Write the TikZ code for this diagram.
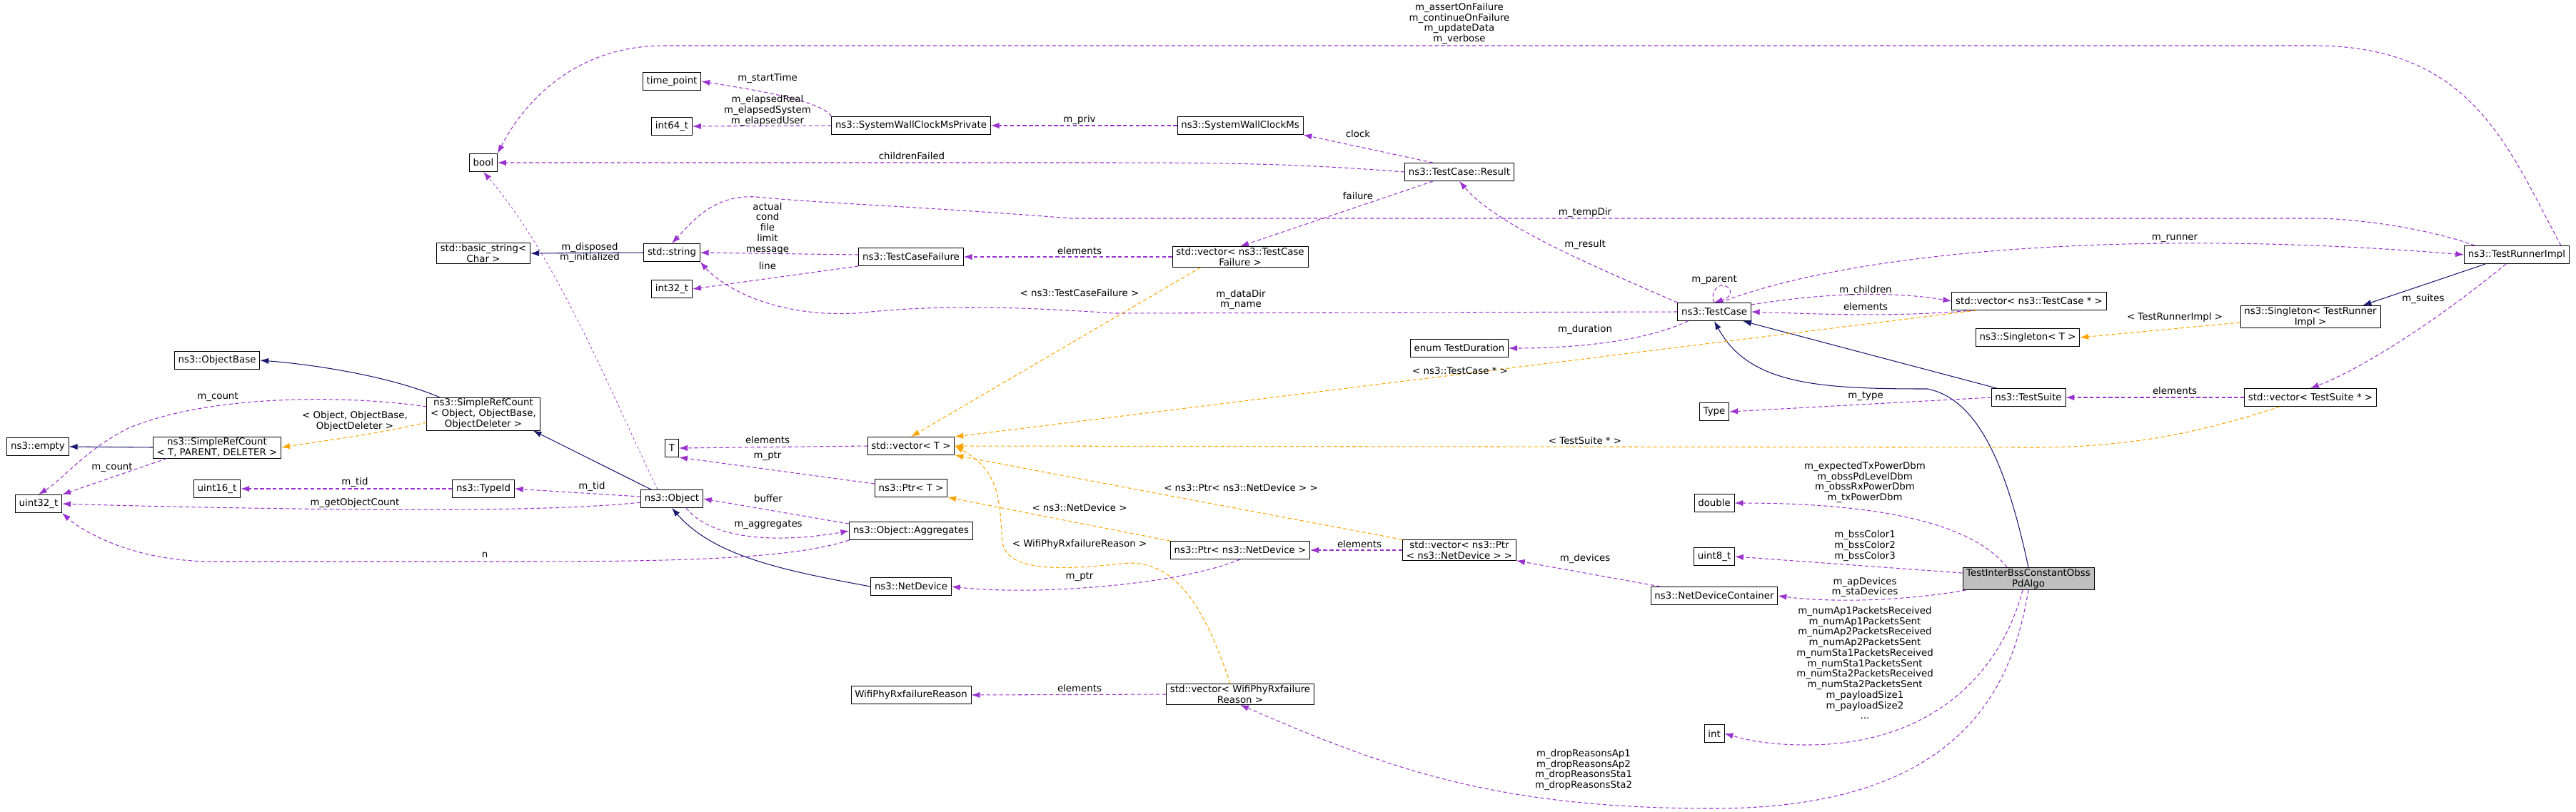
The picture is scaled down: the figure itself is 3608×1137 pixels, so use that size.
\documentclass[tikz,border=0pt]{standalone}
\usepackage{fontspec}
\setmainfont{DejaVu Sans}
\usetikzlibrary{arrows.meta}

\begin{document}
\begin{tikzpicture}[x=0.02cm, y=-0.02cm,
    font=\fontsize{7.6}{8.4}\selectfont,
    cls/.style={draw, fill=white, inner xsep=3pt, inner ysep=1pt, minimum height=0.5cm, align=center, line width=0.5pt},
    lbl/.style={inner sep=0pt, align=center},
    use/.style={->, >={Latex[length=2.4mm,width=1.7mm]}, draw={rgb,255:red,154;green,50;blue,205}, dashed, dash pattern=on 3pt off 2pt, line width=0.6pt},
    tmpl/.style={use, draw={rgb,255:red,255;green,165;blue,0}},
    inh/.style={->, >={Latex[length=2.4mm,width=1.7mm]}, draw={rgb,255:red,25;green,25;blue,112}, line width=0.6pt}]
  \useasboundingbox (0,0) rectangle (3608,1137);

  % classes
  \node[cls] (tp) at (941,114) {time\_point};
  \node[cls] (i64) at (941,177) {int64\_t};
  \node[cls] (bool) at (677,228) {bool};
  \node[cls] (bstr) at (677,355) {std::basic\_string\textless\\Char \textgreater};
  \node[cls] (str) at (941,354) {std::string};
  \node[cls] (i32) at (941,405) {int32\_t};
  \node[cls] (obase) at (304,505) {ns3::ObjectBase};
  \node[cls] (srco) at (677,580) {ns3::SimpleRefCount\\\textless{} Object, ObjectBase,\\ObjectDeleter \textgreater};
  \node[cls] (empty) at (53,626) {ns3::empty};
  \node[cls] (srct) at (304,627) {ns3::SimpleRefCount\\\textless{} T, PARENT, DELETER \textgreater};
  \node[cls] (u16) at (304,685) {uint16\_t};
  \node[cls] (tid) at (677,685) {ns3::TypeId};
  \node[cls] (u32) at (54,706) {uint32\_t};
  \node[cls] (obj) at (941,699) {ns3::Object};
  \node[cls] (T) at (941,628) {T};
  \node[cls] (swcp) at (1276,176) {ns3::SystemWallClockMsPrivate};
  \node[cls] (swc) at (1737,176) {ns3::SystemWallClockMs};
  \node[cls] (res) at (2044,241) {ns3::TestCase::Result};
  \node[cls] (vtcf) at (1737,360) {std::vector\textless{} ns3::TestCase\\Failure \textgreater};
  \node[cls] (tcf) at (1276,360) {ns3::TestCaseFailure};
  \node[cls] (tdur) at (2044,488) {enum TestDuration};
  \node[cls] (tc) at (2401,437) {ns3::TestCase};
  \node[cls] (tri) at (3525,357) {ns3::TestRunnerImpl};
  \node[cls] (vtc) at (2842,422) {std::vector\textless{} ns3::TestCase * \textgreater};
  \node[cls] (sgtri) at (3236,444) {ns3::Singleton\textless{} TestRunner\\Impl \textgreater};
  \node[cls] (sgt) at (2840,473) {ns3::Singleton\textless{} T \textgreater};
  \node[cls] (ts) at (2841,557) {ns3::TestSuite};
  \node[cls] (vts) at (3236,557) {std::vector\textless{} TestSuite * \textgreater};
  \node[cls] (type) at (2401,577) {Type};
  \node[cls] (dbl) at (2401,705) {double};
  \node[cls] (u8) at (2401,780) {uint8\_t};
  \node[cls] (ndc) at (2401,835) {ns3::NetDeviceContainer};
  \node[cls] (int) at (2401,1028) {int};
  \node[cls, fill={rgb,255:red,191;green,191;blue,191}] (tib) at (2841,811) {TestInterBssConstantObss\\PdAlgo};
  \node[cls] (vt) at (1276,625) {std::vector\textless{} T \textgreater};
  \node[cls] (ptrt) at (1276,684) {ns3::Ptr\textless{} T \textgreater};
  \node[cls] (aggr) at (1276,744) {ns3::Object::Aggregates};
  \node[cls] (nd) at (1276,822) {ns3::NetDevice};
  \node[cls] (ptrnd) at (1737,771) {ns3::Ptr\textless{} ns3::NetDevice \textgreater};
  \node[cls] (vptrnd) at (2044,771) {std::vector\textless{} ns3::Ptr\\\textless{} ns3::NetDevice \textgreater{} \textgreater};
  \node[cls] (wfr) at (1276,974) {WifiPhyRxfailureReason};
  \node[cls] (vwfr) at (1737,973) {std::vector\textless{} WifiPhyRxfailure\\Reason \textgreater};

  % inheritance
  \draw[inh] (str.west) -- (bstr.east);
  \path (tc.south) ++(40,0) coordinate (tcs) (ts.north west) ++(8,0) coordinate (tsn);
  \draw[inh] (tsn) -- (tcs);
  \path (tri.south west) ++(30,0) coordinate (tris) (sgtri.north east) ++(-25,0) coordinate (sgn);
  \draw[inh] (tris) -- (sgn);
  \draw[inh] (tib.north) .. controls (2810,650) and (2770,560) .. (2700,545) .. controls (2550,545) and (2450,540) .. (tc.south);
  \draw[inh] (nd.west) .. controls (1100,800) and (1000,780) .. (obj.south);
  \path (obj.north west) ++(15,0) coordinate (objn) (srco.south east) ++(-10,0) coordinate (srcs);
  \draw[inh] (objn) -- (srcs);
  \path (srco.north west) ++(18,0) coordinate (srcn);
  \draw[inh] (srcn) .. controls (540,525) and (430,510) .. (obase.east);
  \draw[inh] (srct.west) -- (empty.east);

  % members
  \path (tri.north east) ++(-12,0) coordinate (trin1);
  \draw[use] (trin1) .. controls (3510,200) and (3460,64) .. (3240,64) -- (930,64) .. controls (800,64) and (730,150) .. (bool.north east);
  \node[lbl] (l1) at (2044,33) {m\_assertOnFailure\\m\_continueOnFailure\\m\_updateData\\m\_verbose};
  \draw[use] (swcp.north west) .. controls (1150,140) and (1050,125) .. (tp.east);
  \node[lbl] (l2) at (1075,110) {m\_startTime};
  \draw[use] (swcp.west) -- (i64.east);
  \node[lbl] (l3) at (1075,155) {m\_elapsedReal\\m\_elapsedSystem\\m\_elapsedUser};
  \draw[use] (swc.west) -- (swcp.east);
  \node[lbl] (l4) at (1512,168) {m\_priv};
  \path (res.north west) ++(40,0) coordinate (resn);
  \draw[use] (resn) -- (swc.south east);
  \node[lbl] (l5) at (1902,188) {clock};
  \draw[use] (res.west) .. controls (1800,228) and (1700,228) .. (1500,228) -- (bool.east);
  \node[lbl] (l6) at (1277,219) {childrenFailed};
  \path (res.south west) ++(40,0) coordinate (ress);
  \draw[use] (ress) -- (vtcf.north);
  \node[lbl] (l7) at (1902,275) {failure};
  \draw[use] (vtcf.west) -- (tcf.east);
  \node[lbl] (l8) at (1512,352) {elements};
  \path (tcf.west) ++(0,-3) coordinate (tcfw);
  \draw[use] (tcfw) -- (str.east);
  \node[lbl] (l9) at (1075,320) {actual\\cond\\file\\limit\\message};
  \draw[use] (tcf.south west) -- (i32.east);
  \node[lbl] (l10) at (1075,373) {line};
  \path (tri.north west) ++(15,0) coordinate (trin2);
  \draw[use] (trin2) .. controls (3400,320) and (3300,306) .. (3240,306) -- (1500,306) .. controls (1300,290) and (1150,285) .. (1060,276) .. controls (1000,272) and (970,310) .. (str.north);
  \node[lbl] (l13) at (2220,298) {m\_tempDir};
  \draw[use] (tc.west) -- (1560,439) .. controls (1400,428) and (1300,428) .. (1200,439) .. controls (1080,445) and (1010,400) .. (str.south east);
  \node[lbl] (l14) at (1738,420) {m\_dataDir\\m\_name};
  \draw[use] (tc.north west) .. controls (2250,380) and (2100,320) .. (res.south);
  \node[lbl] (l15) at (2220,343) {m\_result};
  \draw[use] (tc.north) .. controls (2395,410) and (2405,400) .. (2412,400) .. controls (2425,400) and (2430,415) .. (tc.north);
  \node[lbl] (l16) at (2401,392) {m\_parent};
  \path (tc.south west) ++(15,0) coordinate (tcsw);
  \draw[use] (tcsw) .. controls (2300,480) and (2200,488) .. (tdur.east);
  \node[lbl] (l17) at (2220,462) {m\_duration};
  \path (tc.north) ++(8,0) coordinate (tcn);
  \draw[use] (tcn) .. controls (2600,350) and (3000,320) .. (tri.west);
  \node[lbl] (l18) at (3046,334) {m\_runner};
  \path (tc.north east) ++(0,3) coordinate (tcne);
  \draw[use] (tcne) .. controls (2560,410) and (2650,408) .. (vtc.west);
  \node[lbl] (l19) at (2613,407) {m\_children};
  \path (vtc.south west) ++(30,0) coordinate (vtcs);
  \draw[use] (vtcs) .. controls (2650,445) and (2550,440) .. (tc.east);
  \node[lbl] (l20) at (2613,430) {elements};
  \path (sgtri.west) ++(0,8) coordinate (sgw);
  \draw[tmpl] (sgw) -- (sgt.east);
  \node[lbl] (l23) at (3046,445) {\textless{} TestRunnerImpl \textgreater};
  \path (tri.south) ++(-15,0) coordinate (tris2);
  \draw[use] (tris2) .. controls (3400,460) and (3300,520) .. (vts.north);
  \node[lbl] (l24) at (3394,419) {m\_suites};
  \draw[use] (vts.west) -- (ts.east);
  \node[lbl] (l25) at (3046,548) {elements};
  \draw[use] (ts.west) -- (type.east);
  \node[lbl] (l26) at (2613,555) {m\_type};
  \path (vts.south west) ++(50,0) coordinate (vtss);
  \draw[tmpl] (vtss) .. controls (3100,600) and (3000,627) .. (2850,627) -- (vt.east);
  \node[lbl] (l27) at (2220,618) {\textless{} TestSuite * \textgreater};
  \path (vtc.south west) ++(35,0) coordinate (vtcs2);
  \draw[tmpl] (vtcs2) -- (vt.north east);
  \node[lbl] (l28) at (2045,520) {\textless{} ns3::TestCase * \textgreater};
  \path (vtcf.south west) ++(40,0) coordinate (vtcfs);
  \draw[tmpl] (vtcfs) -- (vt.north);
  \node[lbl] (l29) at (1512,411) {\textless{} ns3::TestCaseFailure \textgreater};
  \draw[tmpl] (vptrnd.north west) -- (vt.south east);
  \node[lbl] (l30) at (1738,684) {\textless{} ns3::Ptr\textless{} ns3::NetDevice \textgreater{} \textgreater};
  \path (vwfr.north west) ++(90,0) coordinate (vwfrn);
  \draw[tmpl] (vwfrn) .. controls (1690,860) and (1650,780) .. (1570,790) .. controls (1480,800) and (1410,800) .. (1404,760) .. controls (1400,700) and (1400,660) .. (vt.east);
  \node[lbl] (l31) at (1512,763) {\textless{} WifiPhyRxfailureReason \textgreater};
  \draw[tmpl] (ptrnd.north west) -- (ptrt.south east);
  \node[lbl] (l32) at (1512,712) {\textless{} ns3::NetDevice \textgreater};
  \draw[use] (vt.west) -- (T.east);
  \node[lbl] (l33) at (1075,617) {elements};
  \path (ptrt.west) ++(0,-6) coordinate (ptrw);
  \draw[use] (ptrw) -- (T.south east);
  \node[lbl] (l34) at (1075,639) {m\_ptr};
  \draw[use] (ptrnd.south) .. controls (1650,820) and (1450,835) .. (nd.east);
  \node[lbl] (l35) at (1512,808) {m\_ptr};
  \draw[use] (vptrnd.west) -- (ptrnd.east);
  \node[lbl] (l36) at (1904,763) {elements};
  \path (ndc.north west) ++(14,0) coordinate (ndcn);
  \draw[use] (ndcn) -- (vptrnd.south east);
  \node[lbl] (l37) at (2220,783) {m\_devices};
  \draw[use] (vwfr.west) -- (wfr.east);
  \node[lbl] (l38) at (1512,965) {elements};
  \draw[use] (tib.south) .. controls (2820,950) and (2760,1133) .. (2400,1133) .. controls (2100,1133) and (1950,1080) .. (vwfr.south);
  \node[lbl] (l39) at (2218,1079) {m\_dropReasonsAp1\\m\_dropReasonsAp2\\m\_dropReasonsSta1\\m\_dropReasonsSta2};
  \path (tib.south) ++(-8,0) coordinate (tibs);
  \draw[use] (tibs) .. controls (2800,950) and (2700,1044) .. (2530,1044) .. controls (2470,1044) and (2440,1035) .. (int.east);
  \node[lbl] (l40) at (2612,929) {m\_numAp1PacketsReceived\\m\_numAp1PacketsSent\\m\_numAp2PacketsReceived\\m\_numAp2PacketsSent\\m\_numSta1PacketsReceived\\m\_numSta1PacketsSent\\m\_numSta2PacketsReceived\\m\_numSta2PacketsSent\\m\_payloadSize1\\m\_payloadSize2\\...};
  \path (tib.south west) ++(5,0) coordinate (tibsw);
  \draw[use] (tibsw) .. controls (2650,845) and (2550,843) .. (ndc.east);
  \node[lbl] (l41) at (2612,823) {m\_apDevices\\m\_staDevices};
  \path (tib.west) ++(0,-8) coordinate (tibw);
  \draw[use] (tibw) -- (u8.east);
  \node[lbl] (l42) at (2612,765) {m\_bssColor1\\m\_bssColor2\\m\_bssColor3};
  \path (tib.north) ++(-30,0) coordinate (tibn);
  \draw[use] (tibn) .. controls (2760,730) and (2620,705) .. (dbl.east);
  \node[lbl] (l43) at (2612,676) {m\_expectedTxPowerDbm\\m\_obssPdLevelDbm\\m\_obssRxPowerDbm\\m\_txPowerDbm};
  \path (obj.north) ++(-20,0) coordinate (objn2);
  \draw[use, dash pattern=on 2pt off 2pt, line width=0.4pt] (objn2) .. controls (860,560) and (780,360) .. (bool.south);
  \node[lbl] (l11) at (826,354) {m\_disposed\\m\_initialized};
  \path (srco.west) ++(0,12) coordinate (srcw);
  \draw[tmpl] (srcw) .. controls (520,610) and (450,618) .. (srct.east);
  \node[lbl] (l48) at (497,590) {\textless{} Object, ObjectBase,\\ObjectDeleter \textgreater};
  \path (srco.west) ++(0,-10) coordinate (srcw2);
  \draw[use] (srcw2) .. controls (500,555) and (300,550) .. (180,600) .. controls (120,630) and (90,670) .. (u32.north);
  \node[lbl] (l50) at (305,556) {m\_count};
  \path (srct.south west) ++(20,0) coordinate (srcts);
  \draw[use] (srcts) -- (u32.north east);
  \node[lbl] (l51) at (157,655) {m\_count};
  \draw[use] (tid.west) -- (u16.east);
  \node[lbl] (l52) at (497,676) {m\_tid};
  \path (obj.west) ++(0,-3) coordinate (objw);
  \draw[use] (objw) -- (tid.east);
  \node[lbl] (l53) at (829,682) {m\_tid};
  \path (obj.west) ++(0,5) coordinate (objw2);
  \draw[use] (objw2) .. controls (800,715) and (600,715) .. (497,714) .. controls (300,712) and (150,708) .. (u32.east);
  \node[lbl] (l54) at (497,705) {m\_getObjectCount};
  \path (aggr.north west) ++(0,3) coordinate (aggw);
  \draw[use] (aggw) -- (obj.east);
  \node[lbl] (l55) at (1076,699) {buffer};
  \path (obj.south) ++(20,0) coordinate (objs);
  \draw[use] (objs) .. controls (1000,760) and (1100,760) .. (aggr.west);
  \node[lbl] (l56) at (1076,735) {m\_aggregates};
  \draw[use] (aggr.south west) .. controls (1100,787) and (900,787) .. (679,787) -- (300,787) .. controls (180,787) and (110,740) .. (u32.south east);
  \node[lbl] (l57) at (679,778) {n};
\end{tikzpicture}
\end{document}
